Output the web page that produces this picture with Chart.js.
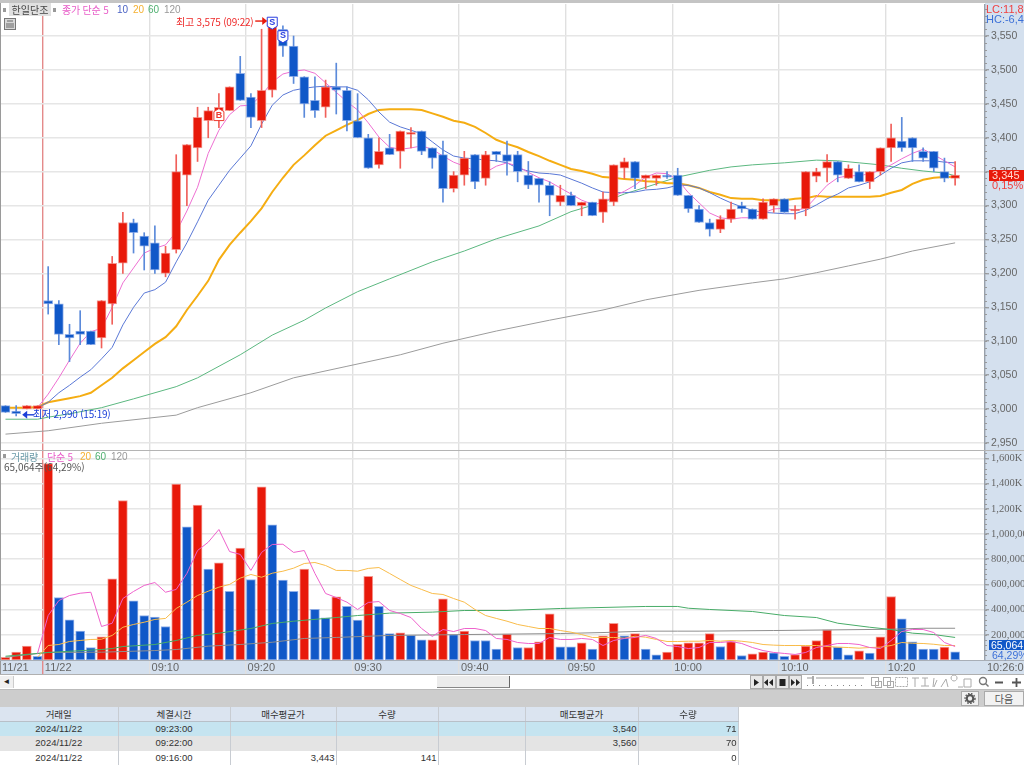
<!DOCTYPE html>
<html lang="ko"><head><meta charset="utf-8">
<script src="https://cdn.jsdelivr.net/npm/chart.js@4/dist/chart.umd.js"></script>
<style>
html,body{margin:0;padding:0;background:#fff;overflow:hidden}
#root{position:relative;width:1024px;height:766px;overflow:hidden;font-family:"Liberation Sans","Noto Sans CJK KR",sans-serif;font-size:10px;color:#444}
#root div{position:absolute;white-space:nowrap}
canvas{position:absolute;left:0}
.k{font-family:"Noto Sans CJK KR",sans-serif;letter-spacing:-.2px}
table{position:absolute;left:0;top:707px;border-collapse:collapse;table-layout:fixed;width:738px;font-size:9.5px;color:#333}
td,th{padding:0 1px;height:14.5px;line-height:14px;overflow:hidden;font-weight:normal;border-right:1px solid #c8ccd2;box-sizing:border-box;white-space:nowrap}
th{background:#dbe4f0;font-family:"Noto Sans CJK KR",sans-serif;border-bottom:1px solid #b8c0c8;text-align:center}
td.c{text-align:center} td.r{text-align:right}
.r1 td{background:#c5e4f0}.r2 td{background:#e4e4e4}.r3 td{background:#fff}
</style></head><body>
<div id="root">
  <div style="left:0;top:0;width:1024px;height:3px;background:#c4c4c4"></div>
  <div style="left:985px;top:3px;width:39px;height:671px;background:#d4e0ee"></div>
  <div style="left:0;top:660px;width:985px;height:14px;background:#d4e0ee"></div>
  <canvas id="price" width="1024" height="446" style="top:4px"></canvas>
  <canvas id="vol" width="1024" height="224" style="top:450px"></canvas>
  <div style="left:0;top:3px;width:1px;height:672px;background:#9a9a9a"></div>
  <div style="left:0;top:450px;width:1024px;height:1px;background:#b4b4b4"></div>
  <div style="left:0;top:660px;width:1024px;height:1px;background:#a8aeb6"></div>
  <div style="left:0;top:674px;width:1024px;height:1px;background:#b0b0b0"></div>

  <div style="left:3px;top:8px;width:3px;height:4px;background:#999"></div>
  <div class="k" style="left:9px;top:3px;width:42px;height:13px;line-height:13px;background:#e0e0e0;text-align:center;color:#444;letter-spacing:0">한일단조</div>
  <div style="left:53px;top:8px;width:3px;height:4px;background:#999"></div>
  <div class="k" style="left:62px;top:3px;line-height:14px;color:#e85cc8">종가 단순 5</div>
  <div style="left:117px;top:3px;line-height:14px;color:#4a62c4">10</div>
  <div style="left:133px;top:3px;line-height:14px;color:#f5b030">20</div>
  <div style="left:148px;top:3px;line-height:14px;color:#4fb070">60</div>
  <div style="left:164px;top:3px;line-height:14px;color:#999">120</div>
  <svg style="position:absolute;left:4px;top:18px" width="12" height="12"><rect x=".5" y=".5" width="11" height="11" fill="#d8d8d8" stroke="#777"/><path d="M3 3h6M3 5v5M5 5v5M7 5v5M9 5v5" stroke="#666"/></svg>

  <div class="k" style="left:176px;top:15px;line-height:14px;color:#ee2a2a;letter-spacing:-.2px">최고 3,575 (09:22)</div>
  <div class="k" style="left:33px;top:407px;line-height:14px;color:#1a3fd8;letter-spacing:-.2px">최저 2,990 (15:19)</div>

  <div style="left:986px;top:4px;line-height:11px;color:#f04040;font-size:11px">LC:11,87</div>
  <div style="left:986px;top:14px;line-height:11px;color:#3c70d8;font-size:11px">HC:-6,45</div>

  <div style="left:989px;top:170px;width:35px;height:11px;line-height:11px;background:#e8190a;color:#ffd8d0;font-size:11px;padding-left:3px;box-sizing:border-box">3,345</div>
  <div style="left:992px;top:180px;line-height:11px;color:#f04040;font-size:11px">0,15%</div>
  <div style="left:989px;top:640px;width:35px;height:10px;line-height:10px;background:#1058c8;color:#fff;font-size:10.5px;padding-left:2px;box-sizing:border-box">65,064</div>
  <div style="left:992px;top:650px;line-height:10px;color:#3c70d8;font-size:10.5px">64,29%</div>

  <div style="left:3px;top:454px;width:3px;height:4px;background:#999"></div>
  <div class="k" style="left:11px;top:450px;line-height:14px;color:#6a9aa8">거래량</div>
  <div class="k" style="left:47px;top:450px;line-height:14px;color:#e85cc8">단순 5</div>
  <div style="left:80px;top:450px;line-height:14px;color:#f5b030">20</div>
  <div style="left:95px;top:450px;line-height:14px;color:#4fb070">60</div>
  <div style="left:111px;top:450px;line-height:14px;color:#999">120</div>
  <div class="k" style="left:4px;top:460px;line-height:14px;color:#555;letter-spacing:0">65,064주(64,29%)</div>
  <div style="left:987px;top:661px;line-height:13px;color:#666;font-size:11px">10:26:00</div>

  <!-- scrollbar & toolbar -->
  <div style="left:0;top:675px;width:1024px;height:15px;background:#fff;border-bottom:1px solid #bbb;box-sizing:border-box"></div>
  <div style="left:0;top:676px;width:13px;height:12px;background:#f0f0f0;border-right:1px solid #ccc;font-size:8px;line-height:12px;text-align:center;color:#222">◄</div>
  <div style="left:437px;top:676px;width:73px;height:12px;background:#ececec;border-right:1px solid #666;border-bottom:1px solid #888;box-sizing:border-box"></div>
  <svg style="position:absolute;left:750px;top:675px" width="274" height="15">
    <g fill="#e8e8e8" stroke="#aaa"><rect x=".5" y=".5" width="12" height="13"/><rect x="13.5" y=".5" width="12" height="13"/><rect x="26.5" y=".5" width="12" height="13"/><rect x="39.5" y=".5" width="12" height="13"/></g>
    <path d="M4 4l5 3.5-5 3.5zM23 4l-4 3.5 4 3.5zM18 4l-4 3.5 4 3.5zM29.500 4h6v7h-6zM41 4l4 3.5-4 3.500zM46 4l4 3.500-4 3.500z" fill="#222"/>
    <path d="M57 3h5M66 3h48" stroke="#999" fill="none"/><path d="M63 1v8" stroke="#555"/>
    <path d="M57 10.500h60" stroke="#888" stroke-dasharray="1 5"/>
    <g fill="none" stroke="#aaa"><rect x="121.500" y="2.500" width="7" height="8"/><rect x="125.500" y="6.500" width="6" height="6"/><rect x="133.500" y="2.500" width="7" height="8"/><rect x="137.500" y="6.500" width="6" height="6"/><rect x="145.500" y="2.500" width="12" height="9" stroke-dasharray="2 1"/>
    <path d="M162 3h7M165 3v9M172 3l6 0M175 3v8M171 11h8M184 3l-1 9M187 5l-3 7M196 4l-5 8M196 4l2 8M204 6a3 3 0 1 1 .1 0M208 12h5M214 4h7v8h-7z" /></g>
    <g fill="none" stroke="#777" stroke-width="1.400"><circle cx="233" cy="6" r="3.500"/><path d="M235.500 8.500l3 3"/></g>
    <path d="M245 7.500h8M262 7.500h9M266.500 3v9" stroke="#555" stroke-width="1.800"/>
  </svg>
  <div style="left:0;top:690px;width:1024px;height:17px;background:#cdcdcd"></div>
  <div style="left:961px;top:691px;width:18px;height:15px;background:#f0f0f0;border:1px solid #aaa;box-sizing:border-box"></div>
  <svg style="position:absolute;left:964px;top:693px" width="12" height="11"><circle cx="6" cy="5.500" r="3.300" fill="none" stroke="#555" stroke-width="2.200"/><circle cx="6" cy="5.500" r="5" fill="none" stroke="#555" stroke-width="1.400" stroke-dasharray="1.500 1.500"/></svg>
  <div class="k" style="left:984px;top:691px;width:40px;height:15px;line-height:14px;background:#f2f2f2;border:1px solid #aaa;box-sizing:border-box;text-align:center;color:#555;letter-spacing:0">다음</div>

  <table>
    <colgroup><col style="width:118px"><col style="width:112px"><col style="width:106px"><col style="width:102px"><col style="width:87px"><col style="width:113px"><col style="width:100px"></colgroup>
    <tr><th>거래일</th><th>체결시간</th><th>매수평균가</th><th>수량</th><th></th><th>매도평균가</th><th>수량</th></tr>
    <tr class="r1"><td class="c">2024/11/22</td><td class="c">09:23:00</td><td></td><td></td><td></td><td class="r">3,540</td><td class="r">71</td></tr>
    <tr class="r2"><td class="c">2024/11/22</td><td class="c">09:22:00</td><td></td><td></td><td></td><td class="r">3,560</td><td class="r">70</td></tr>
    <tr class="r3"><td class="c">2024/11/22</td><td class="c">09:16:00</td><td class="r">3,443</td><td class="r">141</td><td></td><td></td><td class="r">0</td></tr>
  </table>
</div>
<script>
const openP=[3005,2997,3000,3000,3160,3155,3110,3115,3115,3105,3155,3215,3275,3255,3245,3200,3235,3345,3385,3425,3435,3440,3495,3460,3425,3470,3560,3535,3490,3455,3445,3475,3470,3425,3400,3360,3385,3380,3405,3410,3385,3375,3325,3345,3375,3340,3380,3375,3375,3345,3340,3330,3305,3315,3300,3305,3290,3305,3355,3365,3340,3340,3345,3345,3315,3295,3275,3265,3280,3300,3295,3280,3300,3310,3292,3295,3343,3355,3365,3340,3350,3335,3350,3385,3395,3400,3380,3380,3350,3340];
const highP=[3005,3005,3005,3005,3210,3160,3125,3145,3115,3160,3225,3290,3280,3260,3270,3240,3375,3390,3445,3445,3465,3475,3520,3465,3560,3575,3565,3550,3490,3490,3485,3510,3475,3465,3405,3400,3405,3410,3415,3410,3385,3395,3350,3380,3375,3380,3380,3395,3380,3365,3340,3335,3330,3320,3305,3305,3320,3360,3370,3365,3345,3345,3350,3355,3315,3300,3280,3285,3305,3305,3295,3310,3310,3310,3300,3350,3355,3375,3365,3360,3360,3350,3385,3420,3430,3400,3385,3380,3370,3365];
const lowP=[2995,2990,3000,3000,3140,3095,3070,3095,3095,3090,3125,3200,3230,3205,3200,3195,3230,3300,3365,3400,3415,3440,3455,3415,3415,3460,3520,3480,3430,3430,3430,3435,3410,3400,3355,3355,3375,3355,3385,3375,3355,3305,3320,3330,3325,3330,3365,3345,3335,3325,3305,3285,3300,3300,3285,3285,3275,3300,3340,3325,3325,3330,3340,3315,3290,3275,3255,3260,3275,3290,3280,3280,3290,3290,3280,3285,3335,3335,3335,3340,3335,3325,3345,3365,3380,3365,3365,3350,3335,3330];
const closeP=[2995,2993,3005,3005,3155,3110,3105,3110,3095,3160,3215,3275,3260,3240,3205,3230,3350,3390,3430,3440,3445,3475,3455,3430,3470,3575,3535,3490,3450,3440,3475,3470,3425,3400,3355,3380,3375,3410,3408,3380,3370,3325,3345,3370,3335,3375,3375,3365,3350,3330,3330,3315,3315,3300,3305,3285,3310,3360,3365,3340,3345,3345,3342,3315,3295,3275,3265,3280,3295,3295,3280,3305,3310,3290,3295,3350,3350,3365,3345,3355,3335,3350,3385,3400,3385,3385,3370,3355,3340,3345];
const ma5=[null,null,null,3002,3022,3046,3072,3097,3114,3119,3150,3186,3208,3230,3237,3242,3261,3292,3327,3377,3411,3434,3447,3448,3463,3482,3494,3498,3500,3495,3481,3467,3453,3441,3422,3401,3386,3383,3385,3388,3383,3373,3364,3358,3351,3349,3358,3363,3358,3349,3341,3335,3326,3317,3308,3302,3304,3314,3321,3330,3342,3348,3347,3338,3319,3304,3289,3282,3280,3282,3282,3289,3295,3296,3293,3296,3313,3330,3341,3344,3344,3347,3352,3360,3369,3377,3383,3375,3366,3357];
const ma10=[null,null,null,3002,3010,3024,3035,3047,3058,3074,3091,3124,3150,3171,3176,3187,3217,3245,3276,3308,3330,3352,3370,3388,3420,3448,3463,3470,3473,3475,3476,3475,3475,3470,3456,3438,3423,3416,3411,3406,3394,3382,3373,3370,3369,3367,3366,3363,3355,3351,3348,3347,3345,3339,3333,3326,3320,3319,3319,3320,3323,3324,3326,3330,3330,3326,3319,3311,3304,3298,3293,3290,3289,3288,3288,3293,3301,3310,3317,3326,3330,3335,3345,3355,3363,3366,3366,3366,3364,3363];
const ma20=[3002,3002,3002,3003,3010,3013,3016,3019,3024,3035,3046,3060,3072,3084,3096,3106,3122,3146,3167,3189,3220,3242,3260,3277,3296,3320,3341,3360,3374,3389,3403,3411,3419,3426,3435,3441,3442,3442,3442,3441,3436,3431,3425,3422,3416,3407,3397,3391,3386,3379,3373,3366,3360,3354,3351,3347,3342,3341,3339,3338,3336,3335,3333,3333,3330,3326,3320,3316,3311,3310,3310,3308,3308,3308,3310,3311,3314,3313,3313,3313,3313,3313,3314,3319,3323,3332,3338,3341,3342,3342];
const ma60Idx=[0,3,4,6,9,12,16,18,22,25,28,30,33,36,40,43,46,50,53,56,58,60,63,66,68,70,73,76,78,80,82,84,86,88,89];
const ma60=[2985,2985,2988,2993,3002,3015,3033,3046,3080,3109,3131,3149,3173,3192,3217,3233,3251,3270,3291,3305,3317,3327,3342,3352,3357,3360,3363,3367,3366,3363,3360,3355,3351,3348,3344];
const ma120Idx=[0,4,9,16,18,23,27,32,37,41,46,51,56,60,65,70,73,76,79,82,85,89];
const ma120=[2963,2968,2979,2991,3002,3024,3046,3063,3080,3097,3115,3131,3146,3161,3175,3186,3192,3201,3211,3221,3233,3245];
const volume=[22,62,110,30,1560,496,319,229,99,184,645,1266,470,353,340,266,1396,1058,1229,721,772,546,888,639,1375,1073,634,546,721,403,335,502,427,316,665,427,210,216,195,160,160,486,202,229,155,155,86,205,99,99,145,367,105,105,137,86,192,292,192,210,86,41,62,125,137,137,210,107,147,36,49,62,57,30,44,110,155,240,102,41,73,54,184,504,327,145,86,86,102,65];
const volUp=[1,1,1,0,1,0,0,0,0,1,1,1,0,0,0,0,1,0,1,0,1,0,1,0,1,0,0,0,1,0,0,1,0,0,1,0,0,1,0,0,1,1,0,1,0,0,0,1,0,1,1,1,0,0,1,0,1,1,0,1,0,0,1,1,1,1,1,0,1,0,1,1,0,0,1,1,1,1,0,0,1,0,1,1,0,0,0,0,1,0];
const volMa5=[null,null,null,52,353,472,512,530,538,266,292,488,544,592,615,538,560,687,869,935,1036,861,838,711,854,917,919,854,869,687,528,496,459,401,457,464,393,369,337,250,187,242,226,250,250,234,171,163,139,131,131,179,163,163,171,163,115,155,171,179,195,171,115,107,91,99,139,139,147,131,99,75,60,52,44,60,99,115,131,131,123,99,91,155,226,242,242,218,139,107];
const volMa20=[null,null,null,22,115,123,147,155,163,165,195,260,282,300,322,330,409,459,512,546,578,600,650,679,657,689,705,729,766,774,750,711,711,705,727,734,687,639,592,560,528,520,488,459,401,353,330,308,282,266,250,250,234,221,202,179,179,179,173,189,181,163,147,147,149,149,155,149,155,149,139,123,118,115,115,115,115,107,102,99,94,99,102,115,139,133,131,125,115,115];
const volMa60Idx=[0,4,9,10,11,14,16,18,20,23,25,27,30,31,33,36,40,43,47,52,56,60,63,64,66,70,73,76,78,81,83,85,87,89];
const volMa60=[30,60,83,91,107,123,155,195,213,250,290,308,330,337,353,372,380,393,393,409,417,425,425,411,401,385,353,337,292,260,242,213,202,179];
const volMa120Idx=[0,4,9,14,16,19,22,25,28,31,36,43,52,56,60,63,65,72,83,86,89];
const volMa120=[22,60,62,75,83,110,123,141,171,179,195,202,210,218,229,229,229,234,244,252,252];
const xTickPos=[-0.515,3.5,13.5,22.5,32.5,42.5,52.5,62.5,72.5,82.5];
const xTickLabels=["11/21","11/22","09:10","09:20","09:30","09:40","09:50","10:00","10:10","10:20"];
const priceTicks=[2950,3000,3050,3100,3150,3200,3250,3300,3350,3400,3450,3500,3550];
const volTicks=[200,400,600,800,1000,1200,1400,1600];
const volTickLabels=["200,000","400,000","600,000","800,000","1,000,000","1,200K","1,400K","1,600K"];
const markerIdx=[25,26,20];
const markerPrice=[3560,3540,3443];
const markerText=["S","S","B"];
const highLabelIdx=25, highPrice=3575, lowLabelIdx=1, lowPrice=2990;

const RED="#e8190a",BLUE="#1058c8",RED_W="#f0605a",BLUE_W="#5b8ada",RED_E="rgba(240,120,110,.75)",BLUE_E="rgba(110,150,225,.75)";
const idx=closeP.map((_,i)=>i);
const FONT="Liberation Sans";
const NARROW="Liberation Sans Narrow";
const xMin=-0.515,xMax=91.8;

function xScale(showLabels){
  return {type:'linear',min:xMin,max:xMax,offset:false,
    afterBuildTicks:s=>{s.ticks=xTickPos.map(v=>({value:v}));},
    afterFit:s=>{s.height=showLabels?14:0;s.paddingLeft=0;s.paddingRight=0;},
    border:{display:false},
    grid:{offset:false,drawTicks:showLabels,tickLength:14,lineWidth:1.4,
      color:c=>c.tick&&c.tick.value===3.5?'#e48a8a':'#e0e0e0'},
    ticks:{display:showLabels,autoSkip:false,maxRotation:0,minRotation:0,align:'start',labelOffset:2,padding:-13,
      color:'#666',font:{family:FONT,size:11},callback:(v,i)=>xTickLabels[i]}};
}
function yScale(min,max,tickVals,cb,font){
  return {position:'right',min,max,
    afterBuildTicks:s=>{s.ticks=tickVals.map(v=>({value:v}));},
    afterFit:s=>{s.width=39;s.paddingTop=0;s.paddingBottom=0;},
    border:{display:true,color:'#98a0aa',width:1.4},
    grid:{color:'#e6e6e6',lineWidth:1.6,tickLength:4,tickColor:'#888',tickWidth:1},
    ticks:{autoSkip:false,padding:2,color:'#666',font,callback:cb}};
}
function line(xs,ys,color,w,order){
  return {type:'line',data:xs.map((x,i)=>({x,y:ys[i]})).filter(p=>p.y!==null),borderColor:color,borderWidth:w,pointRadius:0,tension:0,fill:false,order};
}
const minorTicks={id:'minorTicks',afterDraw(ch,a,o){
  const s=ch.scales.y,c=ch.ctx;c.save();c.strokeStyle='#999';c.lineWidth=1;
  for(let v=Math.ceil(s.min/o.step)*o.step;v<=s.max;v+=o.step){const y=Math.round(s.getPixelForValue(v))+.5;c.beginPath();c.moveTo(s.left,y);c.lineTo(s.left+2,y);c.stroke();}
  c.restore();}};
const marks={id:'marks',afterDatasetsDraw(ch){
  const X=ch.scales.x,Y=ch.scales.y,c=ch.ctx;c.save();
  markerIdx.forEach((m,k)=>{
    const x=X.getPixelForValue(m),y=Y.getPixelForValue(markerPrice[k]),sell=markerText[k]==='S',d=sell?-1:1,col=sell?'#2a3fe0':'#ee3a30';
    c.beginPath();c.moveTo(x,y);c.lineTo(x-5,y+d*3);c.lineTo(x-5,y+d*12);c.lineTo(x+5,y+d*12);c.lineTo(x+5,y+d*3);c.closePath();
    c.fillStyle='#fff';c.fill();c.strokeStyle=col;c.lineWidth=1;c.stroke();
    c.fillStyle=col;c.font='bold 9px "Liberation Sans"';c.textAlign='center';c.textBaseline='middle';c.fillText(markerText[k],x,y+d*7);
  });
  // arrows for the high and low labels
  c.lineWidth=1.4;
  let hy=Y.getPixelForValue(highPrice)+2,hx=X.getPixelForValue(highLabelIdx)-17;
  c.strokeStyle=c.fillStyle='#e8190a';c.beginPath();c.moveTo(hx,hy);c.lineTo(hx+8,hy);c.stroke();c.beginPath();c.moveTo(hx+12,hy);c.lineTo(hx+7,hy-4);c.lineTo(hx+7,hy+4);c.fill();
  let ly=Y.getPixelForValue(lowPrice)-1,lx=X.getPixelForValue(lowLabelIdx)+6;
  c.strokeStyle=c.fillStyle='#1a3fd8';c.beginPath();c.moveTo(lx+3,ly);c.lineTo(lx+12,ly);c.stroke();c.beginPath();c.moveTo(lx,ly);c.lineTo(lx+5,ly-4);c.lineTo(lx+5,ly+4);c.fill();
  c.restore();}};

Chart.defaults.animation=false;
new Chart(document.getElementById('price'),{
  type:'bar',
  data:{datasets:[
    {order:0,grouped:false,barThickness:9,minBarLength:2,borderWidth:1,borderSkipped:false,
      data:idx.map(i=>({x:i,y:[Math.min(openP[i],closeP[i]),Math.max(openP[i],closeP[i])]})),
      backgroundColor:idx.map(i=>closeP[i]>=openP[i]?RED:BLUE),
      borderColor:idx.map(i=>closeP[i]>=openP[i]?RED_E:BLUE_E)},
    {order:1,grouped:false,barThickness:1,borderWidth:0,
      data:idx.map(i=>({x:i,y:[lowP[i],highP[i]]})),
      backgroundColor:idx.map(i=>closeP[i]>=openP[i]?RED_W:BLUE_W)},
    line(idx,ma5,'#ee70d2',1,3),
    line(idx,ma10,'#5a78d6',1,4),
    line(idx,ma20,'#f5ad12',2,5),
    line(ma60Idx,ma60,'#5cb880',1,6),
    line(ma120Idx,ma120,'#9c9c9c',1,7)
  ]},
  options:{responsive:false,animation:false,layout:{padding:0},events:[],
    plugins:{legend:{display:false},tooltip:{enabled:false},minorTicks:{step:10}},
    scales:{x:xScale(false),y:yScale(2939.6,3597.2,priceTicks,v=>Number(v).toLocaleString('en-US'),{family:FONT,size:10.5})}},
  plugins:[minorTicks,marks]
});
new Chart(document.getElementById('vol'),{
  type:'bar',
  data:{datasets:[
    line(idx,volMa5,'#ee62cc',1,0),
    line(idx,volMa20,'#f9bc4a',1,1),
    line(volMa60Idx,volMa60,'#48ac68',1,2),
    line(volMa120Idx,volMa120,'#8e8e8e',1,3),
    {order:5,grouped:false,barThickness:9,borderWidth:1,borderSkipped:false,
      data:idx.map(i=>({x:i,y:volume[i]})),
      backgroundColor:idx.map(i=>volUp[i]?RED:BLUE),
      borderColor:idx.map(i=>volUp[i]?RED_E:BLUE_E)}
  ]},
  options:{responsive:false,animation:false,layout:{padding:0},events:[],
    plugins:{legend:{display:false},tooltip:{enabled:false},minorTicks:{step:40}},
    scales:{x:xScale(true),y:yScale(0,1667,volTicks,(v,i)=>volTickLabels[i],{family:NARROW,size:10.5})}},
  plugins:[minorTicks]
});
</script>
</body></html>
